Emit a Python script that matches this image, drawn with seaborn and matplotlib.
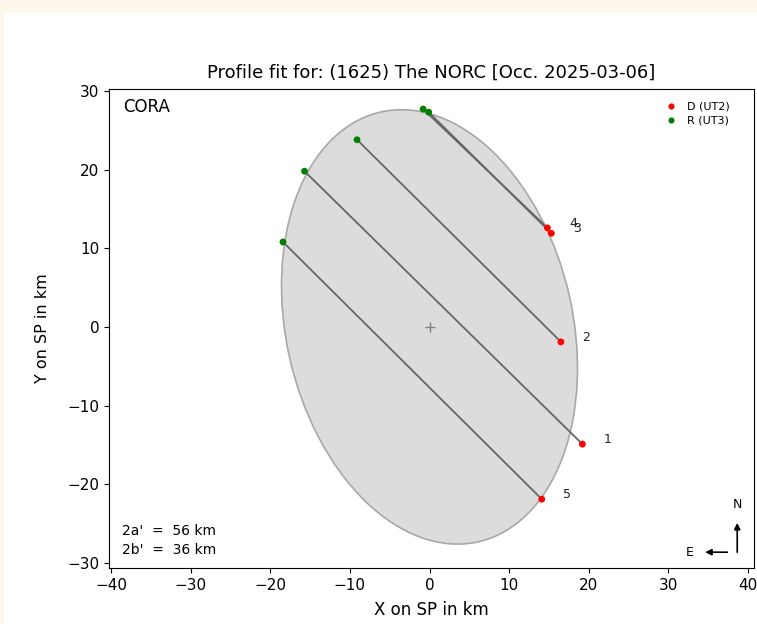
import numpy as np
import pandas as pd
import matplotlib
matplotlib.use('Agg')
import matplotlib.pyplot as plt
from matplotlib.patches import Ellipse, Rectangle
import seaborn as sns

# chord data (km on sky plane)
chords = ['1', '2', '3', '4', '5']
d_x = [19.2, 16.5, 15.3, 14.8, 14.1]
d_y = [-14.9, -1.9, 11.9, 12.6, -21.9]
r_x = [-15.7, -9.1, -0.1, -0.8, -18.4]
r_y = [19.8, 23.8, 27.3, 27.7, 10.8]

# fitted ellipse
ell_major = 56.0
ell_minor = 36.0
ell_angle = 12.5

title = 'Profile fit for: (1625) The NORC [Occ. 2025-03-06]'

fig = plt.figure(figsize=(7.57, 6.24), dpi=100)
fig.patch.set_facecolor('#fef8ec')
fig.patches.append(Rectangle((4/757, 0), 1, 611/624, transform=fig.transFigure,
                             facecolor='white', edgecolor='none', zorder=-5))
ax = fig.add_axes([109/757, 56/624, 645/757, 479/624])

ell = Ellipse((0, 0), width=ell_minor, height=ell_major, angle=ell_angle,
              facecolor='#dcdcdc', edgecolor='#a8a8a8', lw=1.2, zorder=1)
ax.add_patch(ell)
ax.plot(0, 0, marker='+', color='gray', ms=7, mew=1, zorder=2)

for i in range(len(chords)):
    ax.plot([r_x[i], d_x[i]], [r_y[i], d_y[i]], color='#666666', lw=1.3, zorder=2)
    ax.text(d_x[i] + 3.2, d_y[i] + 0.6, chords[i], fontsize=9,
            ha='center', va='center', color='#222222')

df = pd.DataFrame({
    'x': d_x + r_x,
    'y': d_y + r_y,
    'kind': ['D (UT2)'] * len(d_x) + ['R (UT3)'] * len(r_x),
})
sns.scatterplot(data=df, x='x', y='y', hue='kind',
                palette={'D (UT2)': 'red', 'R (UT3)': 'green'},
                s=24, edgecolor='none', zorder=3, ax=ax)

ax.legend(loc='upper right', bbox_to_anchor=(0.975, 0.99), frameon=False,
          fontsize=8, handletextpad=0.5, labelspacing=0.35, markerscale=0.9,
          borderaxespad=0.3)

ax.set_xlim(-40.25, 40.75)
ax.set_ylim(-30.65, 30.25)
ax.set_xticks(np.arange(-40, 41, 10))
ax.set_yticks(np.arange(-30, 31, 10))
ax.tick_params(labelsize=11)
ax.set_xlabel('X on SP in km', fontsize=12, labelpad=6)
ax.set_ylabel('Y on SP in km', fontsize=11.5, labelpad=12)
ax.set_title(title, fontsize=13, pad=8)

ax.text(0.022, 0.982, 'CORA', transform=ax.transAxes, fontsize=12,
        ha='left', va='top')
ax.text(0.02, 0.058, "2a'  =  56 km\n2b'  =  36 km", transform=ax.transAxes,
        fontsize=10, ha='left', va='center', linespacing=1.45)

# N / E orientation arrows
ax.annotate('', xy=(0.974, 0.10), xytext=(0.974, 0.027), xycoords='axes fraction',
            arrowprops=dict(arrowstyle='-|>', color='black', lw=1.2, mutation_scale=9))
ax.text(0.974, 0.133, 'N', transform=ax.transAxes, fontsize=9, ha='center', va='center')
ax.annotate('', xy=(0.92, 0.033), xytext=(0.963, 0.033), xycoords='axes fraction',
            arrowprops=dict(arrowstyle='-|>', color='black', lw=1.2, mutation_scale=9))
ax.text(0.9, 0.033, 'E', transform=ax.transAxes, fontsize=9, ha='center', va='center')

plt.savefig('out.png', dpi=100)
